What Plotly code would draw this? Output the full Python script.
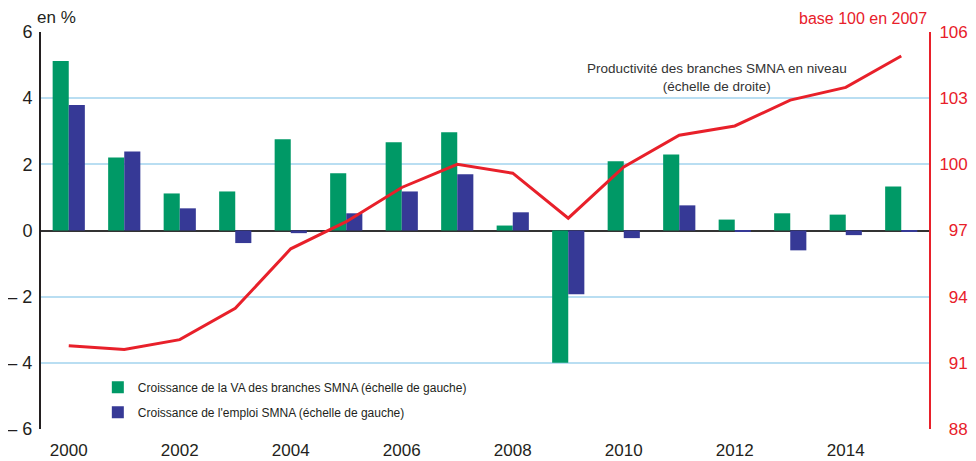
import plotly.graph_objects as go

years = list(range(2000, 2016))
va_growth = [5.12, 2.21, 1.12, 1.18, 2.76, 1.73, 2.67, 2.97, 0.15, -4.0, 2.09, 2.30, 0.33, 0.52, 0.48, 1.33]
emploi_growth = [3.79, 2.39, 0.67, -0.38, -0.08, 0.52, 1.18, 1.70, 0.55, -1.93, -0.23, 0.76, -0.04, -0.60, -0.14, -0.04]
productivite = [91.77, 91.6, 92.05, 93.47, 96.17, 97.4, 98.95, 100.0, 99.6, 97.56, 99.88, 101.32, 101.74, 102.91, 103.49, 104.91]

left_ticks = [6, 4, 2, 0, -2, -4, -6]
left_labels = ["6", "4", "2", "0", "\u2013 2", "\u2013 4", "\u2013 6"]
right_ticks = [88, 91, 94, 97, 100, 103, 106]
right_labels = ["\u200788", "\u200791", "\u200794", "\u200797", "100", "103", "106"]
x_ticks = [2000, 2002, 2004, 2006, 2008, 2010, 2012, 2014]

FONT = "Liberation Sans Narrow, Arial Narrow, Liberation Sans, Arial"
GREEN = "#009966"
BLUE = "#363996"
RED = "#e8202a"
GRID = "#b9def2"
TXT = "#231f20"

fig = go.Figure()
fig.add_trace(go.Bar(x=years, y=va_growth, name="Croissance de la VA des branches SMNA (échelle de gauche)",
                     legendgroup="a", marker=dict(color=GREEN, line=dict(width=0))))
fig.add_trace(go.Bar(x=years, y=emploi_growth, name="Croissance de l'emploi SMNA (échelle de gauche)",
                     legendgroup="b", marker=dict(color=BLUE, line=dict(width=0))))
fig.add_trace(go.Scatter(x=years, y=productivite, yaxis="y2", mode="lines",
                         line=dict(color=RED, width=3), showlegend=False,
                         name="Productivité des branches SMNA en niveau"))

fig.update_layout(
    width=968, height=453,
    margin=dict(l=33, r=47, t=24, b=32),
    paper_bgcolor="white", plot_bgcolor="white",
    font=dict(family=FONT, color=TXT),
    barmode="group", bargap=0.42, bargroupgap=0,
    xaxis=dict(range=[1999.5, 2015.5], tickvals=x_ticks, ticks="", showgrid=False, automargin=False,
               zeroline=False, showline=False, ticklabelstandoff=9,
               tickfont=dict(size=17, family=FONT, color=TXT)),
    yaxis=dict(range=[-6, 6], tickvals=left_ticks, ticktext=left_labels, ticks="", automargin=False,
               showgrid=True, gridcolor=GRID, gridwidth=1.5,
               zeroline=True, zerolinecolor="#333333", zerolinewidth=2,
               showline=True, linecolor=TXT, linewidth=2, ticklabelstandoff=3,
               tickfont=dict(size=18, family=FONT, color=TXT)),
    yaxis2=dict(range=[88, 106], tickvals=right_ticks, ticktext=right_labels, overlaying="y", side="right",
                automargin=False, showgrid=False, zeroline=False, ticks="",
                showline=True, linecolor=RED, linewidth=2, ticklabelstandoff=5,
                tickfont=dict(size=17, family=FONT, color=RED)),
    legend=dict(x=0.064, y=0.142, xanchor="left", yanchor="top", bgcolor="rgba(0,0,0,0)",
                font=dict(size=12, family=FONT, color=TXT), traceorder="grouped",
                itemwidth=30, tracegroupgap=6),
    showlegend=True,
    annotations=[
        dict(text="en %", xref="paper", yref="paper", x=0.0, y=1.0, yshift=3, xshift=-6,
             xanchor="left", yanchor="bottom",
             showarrow=False, font=dict(size=17, family=FONT, color=TXT)),
        dict(text="base 100 en 2007", xref="paper", yref="paper", x=1.0, y=1.0, yshift=3,
             xanchor="right", yanchor="bottom",
             showarrow=False, font=dict(size=16, family=FONT, color=RED)),
        dict(text="Productivité des branches SMNA en niveau<br>(échelle de droite)", xref="x", yref="y2",
             x=2011.68, y=103.93, xanchor="center", yanchor="middle", showarrow=False, align="center",
             font=dict(size=13.5, family=FONT, color="#333333")),
    ],
)

fig.write_html("out.html")
